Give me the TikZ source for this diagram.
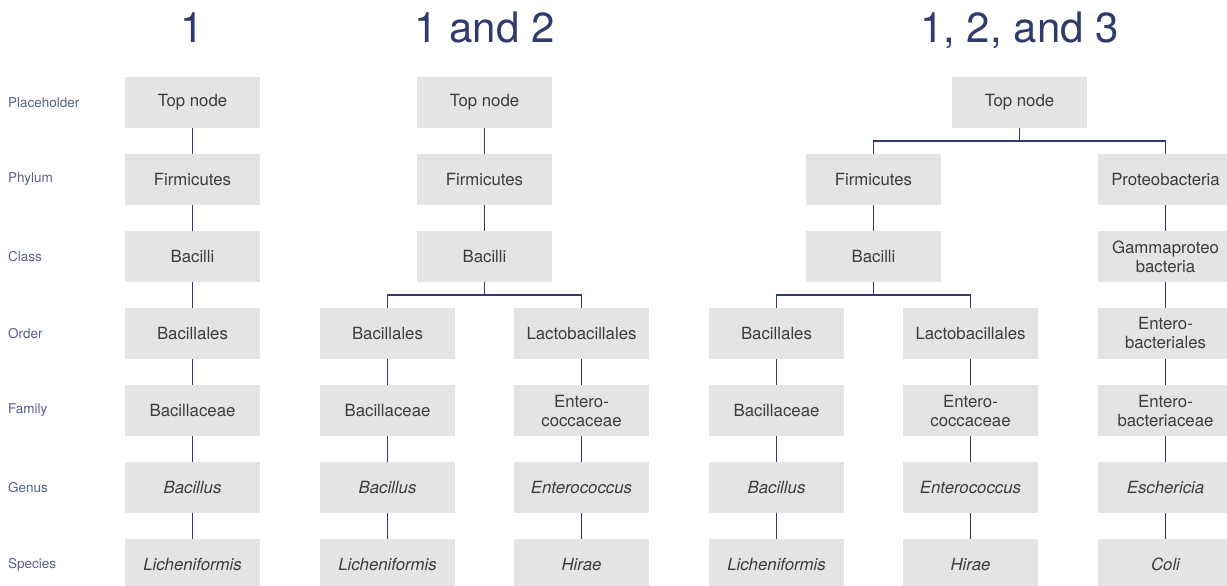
\documentclass[tikz,border=0pt]{standalone}
\usepackage{fontspec}
\setmainfont{TeX Gyre Heros}
\definecolor{boxgray}{HTML}{E3E4E4}
\definecolor{txtgray}{HTML}{3C3C3C}
\definecolor{navy}{HTML}{2F3B6B}
\definecolor{lblblue}{HTML}{56608A}
\tikzset{
  tbox/.style={fill=boxgray, minimum width=135pt, minimum height=51pt, inner sep=0pt,
    text=txtgray, font=\fontsize{16.8}{19}\selectfont, align=center},
  ibox/.style={tbox, font=\fontsize{16.8}{19}\selectfont\itshape},
  conn/.style={draw=navy, line width=1.5pt},
  rowlbl/.style={anchor=west, text=lblblue, font=\fontsize{13.5}{16}\selectfont, inner sep=0pt},
  ttl/.style={anchor=base, text=navy, font=\fontsize{42}{46}\selectfont, inner sep=0pt}
}
\begin{document}
\begin{tikzpicture}[x=1pt,y=-1pt]
\useasboundingbox (0,0) rectangle (1227,586);
\clip (0,0) rectangle (1227,586);
% titles
\node[ttl] (t1) at (192.5,43) {1};
\node[ttl] (t2) at (484.5,43) {1 and 2};
\node[ttl] (t3) at (1019.5,43) {1, 2, and 3};
% row labels
\node[rowlbl] (l1) at (8,102.5) {Placeholder};
\node[rowlbl] (l2) at (8,179.5) {Phylum};
\node[rowlbl] (l3) at (8,256.5) {Class};
\node[rowlbl] (l4) at (8,333.5) {Order};
\node[rowlbl] (l5) at (8,410.5) {Family};
\node[rowlbl] (l6) at (8,487.5) {Genus};
\node[rowlbl] (l7) at (8,564.5) {Species};
% column 1
\node[tbox] (a1) at (192.5,102.5) {Top node};
\node[tbox] (a2) at (192.5,179.5) {Firmicutes};
\node[tbox] (a3) at (192.5,256.5) {Bacilli};
\node[tbox] (a4) at (192.5,333.5) {Bacillales};
\node[tbox] (a5) at (192.5,410.5) {Bacillaceae};
\node[ibox] (a6) at (192.5,487.5) {Bacillus};
\node[ibox] (a7) at (192.5,564.5) {Licheniformis};
\draw[conn] (a1) -- (a2);
\draw[conn] (a2) -- (a3);
\draw[conn] (a3) -- (a4);
\draw[conn] (a4) -- (a5);
\draw[conn] (a5) -- (a6);
\draw[conn] (a6) -- (a7);
% column 2
\node[tbox] (b1) at (484.5,102.5) {Top node};
\node[tbox] (b2) at (484.5,179.5) {Firmicutes};
\node[tbox] (b3) at (484.5,256.5) {Bacilli};
\node[tbox] (b4) at (387.5,333.5) {Bacillales};
\node[tbox] (b5) at (387.5,410.5) {Bacillaceae};
\node[ibox] (b6) at (387.5,487.5) {Bacillus};
\node[ibox] (b7) at (387.5,564.5) {Licheniformis};
\node[tbox] (c4) at (581.5,333.5) {Lactobacillales};
\node[tbox] (c5) at (581.5,410.5) {Entero-\\coccaceae};
\node[ibox] (c6) at (581.5,487.5) {Enterococcus};
\node[ibox] (c7) at (581.5,564.5) {Hirae};
\draw[conn] (b1) -- (b2);
\draw[conn] (b2) -- (b3);
\draw[conn] (b3.south) -- ++(0,13) -| (b4.north);
\draw[conn] (b3.south) -- ++(0,13) -| (c4.north);
\draw[conn] (b4) -- (b5);
\draw[conn] (b5) -- (b6);
\draw[conn] (b6) -- (b7);
\draw[conn] (c4) -- (c5);
\draw[conn] (c5) -- (c6);
\draw[conn] (c6) -- (c7);
% column 3
\node[tbox] (d1) at (1019.5,102.5) {Top node};
\node[tbox] (d2) at (873.5,179.5) {Firmicutes};
\node[tbox] (d3) at (873.5,256.5) {Bacilli};
\node[tbox] (d4) at (776.5,333.5) {Bacillales};
\node[tbox] (d5) at (776.5,410.5) {Bacillaceae};
\node[ibox] (d6) at (776.5,487.5) {Bacillus};
\node[ibox] (d7) at (776.5,564.5) {Licheniformis};
\node[tbox] (e4) at (970.5,333.5) {Lactobacillales};
\node[tbox] (e5) at (970.5,410.5) {Entero-\\coccaceae};
\node[ibox] (e6) at (970.5,487.5) {Enterococcus};
\node[ibox] (e7) at (970.5,564.5) {Hirae};
\node[tbox] (f2) at (1165.5,179.5) {Proteobacteria};
\node[tbox] (f3) at (1165.5,256.5) {Gammaproteo\\bacteria};
\node[tbox] (f4) at (1165.5,333.5) {Entero-\\bacteriales};
\node[tbox] (f5) at (1165.5,410.5) {Entero-\\bacteriaceae};
\node[ibox] (f6) at (1165.5,487.5) {Eschericia};
\node[ibox] (f7) at (1165.5,564.5) {Coli};
\draw[conn] (d1.south) -- ++(0,13) -| (d2.north);
\draw[conn] (d1.south) -- ++(0,13) -| (f2.north);
\draw[conn] (d2) -- (d3);
\draw[conn] (d3.south) -- ++(0,13) -| (d4.north);
\draw[conn] (d3.south) -- ++(0,13) -| (e4.north);
\draw[conn] (d4) -- (d5);
\draw[conn] (d5) -- (d6);
\draw[conn] (d6) -- (d7);
\draw[conn] (e4) -- (e5);
\draw[conn] (e5) -- (e6);
\draw[conn] (e6) -- (e7);
\draw[conn] (f2) -- (f3);
\draw[conn] (f3) -- (f4);
\draw[conn] (f4) -- (f5);
\draw[conn] (f5) -- (f6);
\draw[conn] (f6) -- (f7);
\end{tikzpicture}
\end{document}
